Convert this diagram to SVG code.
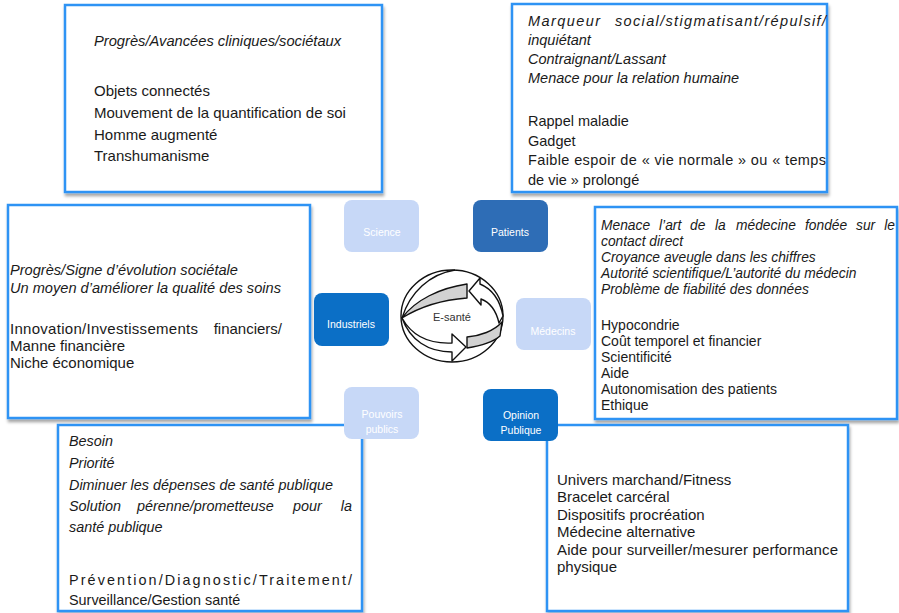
<svg xmlns="http://www.w3.org/2000/svg" width="899" height="613" viewBox="0 0 899 613">
<defs>
<filter id="sh" x="-5%" y="-5%" width="110%" height="112%">
<feDropShadow dx="1" dy="3" stdDeviation="1.5" flood-color="#000" flood-opacity="0.35"/>
</filter>
<style>
.box{fill:#fff;stroke:#2e93f4;stroke-width:2.5;filter:url(#sh)}
.t{font-family:"Liberation Sans",Arial,sans-serif;fill:#1a1a1a}
.i{font-style:italic}
.lt{fill:#c7d8f7}
.dk{fill:#0b6fc6}
.md{fill:#2e6db6}
.nl{font-family:"Liberation Sans",Arial,sans-serif;font-size:10.5px;fill:#fff;text-anchor:middle}
.ar{stroke:#111;stroke-width:1.4;stroke-linejoin:round}
</style>
</defs>
<rect width="899" height="613" fill="#fff"/>

<g id="box-science">
<rect class="box" x="65" y="5" width="317" height="187"/>
<g class="t" font-size="15">
<text class="i" x="94" y="46" font-size="14.7">Progrès/Avancées cliniques/sociétaux</text>
<text x="94" y="96">Objets connectés</text>
<text x="94" y="118">Mouvement de la quantification de soi</text>
<text x="94" y="140">Homme augmenté</text>
<text x="94" y="161">Transhumanisme</text>
</g>
</g>

<g id="box-patients">
<rect class="box" x="512" y="4" width="315" height="188"/>
<g class="t" font-size="14.5">
<text class="i" x="528" y="26" textLength="72" lengthAdjust="spacing">Marqueur</text>
<text class="i" x="615" y="26" textLength="211" lengthAdjust="spacing">social/stigmatisant/répulsif/</text>
<text class="i" x="528" y="45">inquiétant</text>
<text class="i" x="528" y="64">Contraignant/Lassant</text>
<text class="i" x="528" y="83">Menace pour la relation humaine</text>
<text x="528" y="126">Rappel maladie</text>
<text x="528" y="146">Gadget</text>
<text x="528" y="165" textLength="298" lengthAdjust="spacing">Faible espoir de « vie normale » ou « temps</text>
<text x="528" y="185">de vie » prolongé</text>
</g>
</g>

<g id="box-industriels">
<rect class="box" x="8" y="205" width="302" height="213"/>
<g class="t" font-size="15">
<text class="i" x="10" y="275" font-size="14.6">Progrès/Signe d’évolution sociétale</text>
<text class="i" x="10" y="293" font-size="14.6">Un moyen d’améliorer la qualité des soins</text>
<text x="10" y="334" textLength="188" lengthAdjust="spacing">Innovation/Investissements</text>
<text x="282" y="334" text-anchor="end">financiers/</text>
<text x="10" y="351">Manne financière</text>
<text x="10" y="368">Niche économique</text>
</g>
</g>

<g id="box-medecins">
<rect class="box" x="595" y="207" width="302" height="212"/>
<g class="t" font-size="14">
<g class="i" font-size="13.8">
<text x="601" y="230">Menace</text>
<text x="659" y="230">l’art</text>
<text x="690" y="230">de</text>
<text x="715" y="230">la</text>
<text x="736" y="230">médecine</text>
<text x="805" y="230">fondée</text>
<text x="856" y="230">sur</text>
<text x="895" y="230" text-anchor="end">le</text>
<text x="601" y="246">contact direct</text>
<text x="601" y="262">Croyance aveugle dans les chiffres</text>
<text x="601" y="278">Autorité scientifique/L’autorité du médecin</text>
<text x="601" y="294">Problème de fiabilité des données</text>
</g>
<text x="601" y="330">Hypocondrie</text>
<text x="601" y="346">Coût temporel et financier</text>
<text x="601" y="362">Scientificité</text>
<text x="601" y="378">Aide</text>
<text x="601" y="394">Autonomisation des patients</text>
<text x="601" y="410">Ethique</text>
</g>
</g>

<g id="box-pouvoirs">
<rect class="box" x="58" y="425" width="304" height="186"/>
<g class="t" font-size="14.4">
<text class="i" x="69" y="446">Besoin</text>
<text class="i" x="69" y="468">Priorité</text>
<text class="i" x="69" y="490">Diminuer les dépenses de santé publique</text>
<text class="i" x="69" y="511">Solution</text>
<text class="i" x="137" y="511">pérenne/prometteuse</text>
<text class="i" x="293" y="511">pour</text>
<text class="i" x="352" y="511" text-anchor="end">la</text>
<text class="i" x="69" y="532">santé publique</text>
<text x="69" y="585" textLength="283" lengthAdjust="spacing">Prévention/Diagnostic/Traitement/</text>
<text x="69" y="605">Surveillance/Gestion santé</text>
</g>
</g>

<g id="box-opinion">
<rect class="box" x="547" y="425" width="301" height="186"/>
<g class="t" font-size="15">
<text x="557" y="485">Univers marchand/Fitness</text>
<text x="557" y="502">Bracelet carcéral</text>
<text x="557" y="520">Dispositifs procréation</text>
<text x="557" y="537">Médecine alternative</text>
<text x="557" y="555" textLength="281" lengthAdjust="spacing">Aide pour surveiller/mesurer performance</text>
<text x="557" y="572">physique</text>
</g>
</g>

<g id="connectors"></g>

<g id="node-science">
<rect class="lt" x="344" y="200" width="75" height="52" rx="8"/>
<text class="nl" x="382" y="236">Science</text>
</g>
<g id="node-patients">
<rect class="md" x="473" y="200" width="75" height="52" rx="8"/>
<text class="nl" x="510" y="236">Patients</text>
</g>
<g id="node-industriels">
<rect class="dk" x="314" y="293" width="75" height="53" rx="8"/>
<text class="nl" x="351" y="328">Industriels</text>
</g>
<g id="node-medecins">
<rect class="lt" x="516" y="298" width="75" height="52" rx="8"/>
<text class="nl" x="553" y="335">Médecins</text>
</g>
<g id="node-pouvoirs">
<rect class="lt" x="344" y="387" width="75" height="52" rx="8"/>
<text class="nl" x="382" y="418">Pouvoirs</text>
<text class="nl" x="382" y="433">publics</text>
</g>
<g id="node-opinion">
<rect class="dk" x="483" y="389" width="75" height="52" rx="8"/>
<text class="nl" x="521" y="419">Opinion</text>
<text class="nl" x="521" y="434">Publique</text>
</g>

<g id="node-esante">
<ellipse class="ar" cx="452" cy="316" rx="51" ry="46" fill="#fff"/>
<path class="ar" d="M402,318 C415,300 440,288 467,284 L467,298 C440,300 418,308 402,318 Z" fill="#d2d2d2"/>
<path class="ar" d="M480,278 L469,291 L481,305 L481,299 C489,302 496,310 499,323 L503,316 C500,300 492,289 480,284 Z" fill="#fff"/>
<path class="ar" d="M402,318 C412,336 430,344 452,343 L452,334 L466,347 L452,361 L452,352 C428,352 410,340 402,318 Z" fill="#fff"/>
<path class="ar" d="M467,337 C480,336 494,331 502,322 L500,336 C492,343 480,346 467,348 Z" fill="#d2d2d2"/>
<path class="ar" d="M402,318 C410,292 430,274 455,270" fill="none"/>
<text x="452" y="321" font-family="'Liberation Sans',Arial,sans-serif" font-size="11" fill="#333" text-anchor="middle">E-santé</text>
</g>
</svg>
